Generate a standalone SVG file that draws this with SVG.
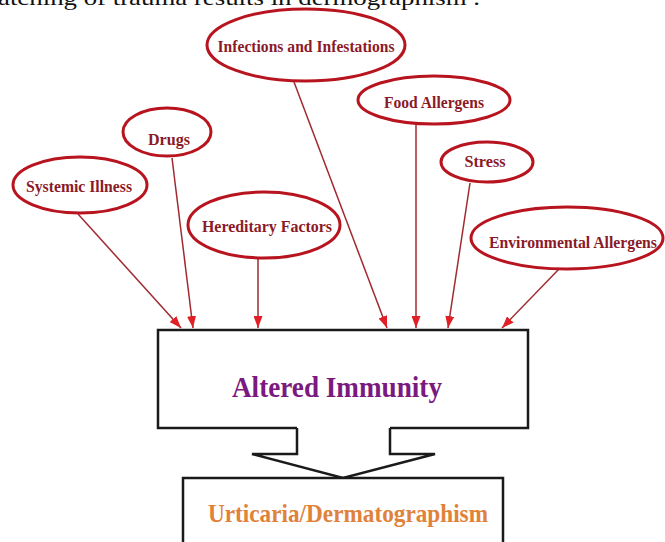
<svg xmlns="http://www.w3.org/2000/svg" width="665" height="542" viewBox="0 0 665 542">
<defs>
<style>
.ell{fill:#fff;stroke:#b8141f;stroke-width:3}
.lbl{font-family:"Liberation Serif",serif;font-weight:bold;font-size:16px;fill:#8b1a28;text-anchor:middle}
.con{stroke:#a02a30;stroke-width:1.5;fill:none;marker-end:url(#ah)}
.box{fill:#fff;stroke:#1a1a1a;stroke-width:2.5}
</style>
<marker id="ah" viewBox="0 0 10 10" refX="10" refY="5" markerWidth="12" markerHeight="9" markerUnits="userSpaceOnUse" orient="auto" preserveAspectRatio="none">
<path d="M0,0 L10,5 L0,10 z" fill="#e01f26"/>
</marker>
</defs>
<rect width="665" height="542" fill="#fff"/>
<text x="-2" y="5" font-family="Liberation Serif,serif" font-size="21" fill="#111" textLength="482" lengthAdjust="spacingAndGlyphs">atching of trauma results in dermographism .</text>
<g id="connectors">
<line class="con" x1="78" y1="214" x2="181" y2="328"/>
<line class="con" x1="172" y1="158" x2="193" y2="328"/>
<line class="con" x1="258" y1="258" x2="258" y2="328"/>
<line class="con" x1="294" y1="82" x2="387" y2="328"/>
<line class="con" x1="416" y1="125" x2="416" y2="328"/>
<line class="con" x1="470" y1="183" x2="448" y2="328"/>
<line class="con" x1="560" y1="268" x2="502" y2="328"/>
</g>
<g id="infections"><ellipse class="ell" cx="306" cy="45" rx="99" ry="36"/><text class="lbl" x="306" y="52" textLength="177" lengthAdjust="spacingAndGlyphs">Infections and Infestations</text></g>
<g id="food"><ellipse class="ell" cx="434" cy="100" rx="76" ry="24"/><text class="lbl" x="434" y="108" textLength="100" lengthAdjust="spacingAndGlyphs">Food Allergens</text></g>
<g id="stress"><ellipse class="ell" cx="487" cy="162" rx="46" ry="20"/><text class="lbl" x="485" y="167" textLength="41" lengthAdjust="spacingAndGlyphs">Stress</text></g>
<g id="environmental"><ellipse class="ell" cx="567" cy="238" rx="96" ry="31"/><text class="lbl" x="573" y="248" textLength="168" lengthAdjust="spacingAndGlyphs">Environmental Allergens</text></g>
<g id="drugs"><ellipse class="ell" cx="167" cy="132" rx="44" ry="24"/><text class="lbl" x="169" y="145" textLength="42" lengthAdjust="spacingAndGlyphs">Drugs</text></g>
<g id="systemic"><ellipse class="ell" cx="80" cy="185" rx="67" ry="28"/><text class="lbl" x="79" y="192" textLength="106" lengthAdjust="spacingAndGlyphs">Systemic Illness</text></g>
<g id="hereditary"><ellipse class="ell" cx="264" cy="225" rx="76" ry="33"/><text class="lbl" x="267" y="232" textLength="130" lengthAdjust="spacingAndGlyphs">Hereditary Factors</text></g>
<g id="altered">
<path class="box" d="M297,428 L158,428 L158,330 L528,330 L528,428 L390,428"/>
<text x="337" y="397" font-family="Liberation Serif,serif" font-weight="bold" font-size="30" fill="#7a1a80" text-anchor="middle" textLength="210" lengthAdjust="spacingAndGlyphs">Altered Immunity</text>
</g>
<g id="block-arrow">
<path d="M297,428 L297,454 L252,454 L343,478 L435,454 L390,454 L390,428" fill="#fff" stroke="#1a1a1a" stroke-width="2.5" stroke-linejoin="miter"/>
</g>
<g id="urticaria">
<path class="box" d="M183,545 L183,478 L503,478 L503,545"/>
<text x="348" y="522" font-family="Liberation Serif,serif" font-weight="bold" font-size="26" fill="#e0823a" text-anchor="middle" textLength="280" lengthAdjust="spacingAndGlyphs">Urticaria/Dermatographism</text>
</g>
</svg>
